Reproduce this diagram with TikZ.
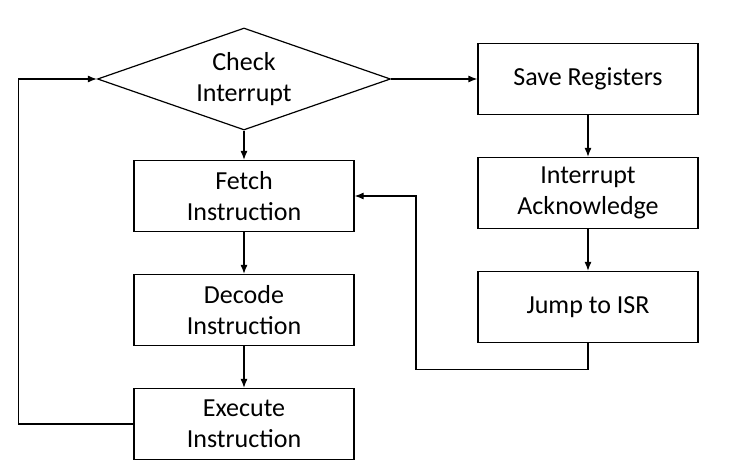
\documentclass[tikz,border=0pt]{standalone}
\usepackage{fontspec}
\setmainfont{Carlito}
\usetikzlibrary{arrows.meta,shapes.geometric}

\begin{document}
\begin{tikzpicture}[x=1pt,y=-1pt,>={Latex[length=9pt,width=7pt]},line width=1.2pt,
    font=\fontsize{26}{31}\selectfont,
    blk/.style={draw,minimum width=220pt,minimum height=71pt,align=center,inner sep=0pt},
    chk/.style={draw,diamond,aspect=2.87,minimum width=293pt,minimum height=102pt,align=center,inner sep=0pt}]
    \useasboundingbox (0,0) rectangle (737,476);
    \draw
    (244,79) node[chk](Chk){Check\\Interrupt}
    (244,196) node[blk](Fet){Fetch\\Instruction}
    (244,310) node[blk](Dec){Decode\\Instruction}
    (244,424) node[blk](Exe){Execute\\Instruction}
    (588,79) node[blk](Sav){Save Registers}
    (588,193) node[blk](Ack){Interrupt\\Acknowledge}
    (588,307) node[blk](Jmp){Jump to ISR};
    \draw[->] (Chk) -- (Fet);
    \draw[->] (Fet) -- (Dec);
    \draw[->] (Dec) -- (Exe);
    \draw[->] (Chk) -- (Sav);
    \draw[->] (Sav) -- (Ack);
    \draw[->] (Ack) -- (Jmp);
    \draw[->] (Exe.west) -- ++(-115,0) |- (Chk.west);
    \draw[->] (Jmp.south) -- ++(0,26) -- ++(-172,0) |- (Fet.east);
  \end{tikzpicture}
\end{document}
